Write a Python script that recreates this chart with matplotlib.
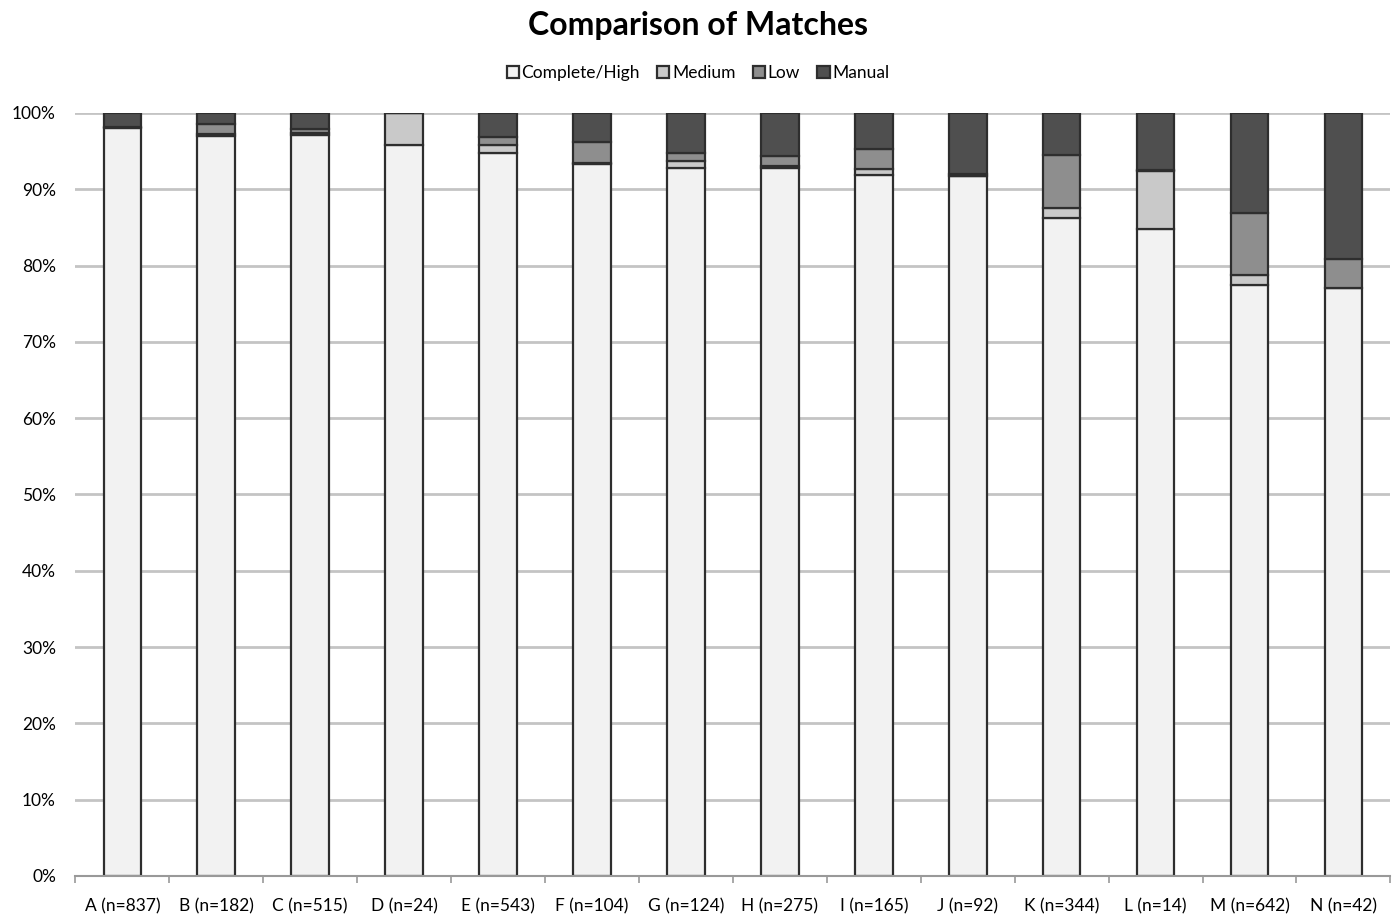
import numpy as np
import matplotlib.pyplot as plt
from matplotlib.ticker import PercentFormatter, FixedLocator

plt.rcParams['font.family'] = ['Lato', 'DejaVu Sans']

# Share of matches per source, in percent
sources = ["A (n=837)", "B (n=182)", "C (n=515)", "D (n=24)", "E (n=543)",
           "F (n=104)", "G (n=124)", "H (n=275)", "I (n=165)", "J (n=92)",
           "K (n=344)", "L (n=14)", "M (n=642)", "N (n=42)"]
complete_high = [98.0, 97.0, 97.1, 95.8, 94.8, 93.3, 92.8, 92.8, 91.9, 91.7, 86.2, 84.8, 77.4, 77.0]
medium = [0.1, 0.3, 0.3, 4.2, 1.0, 0.2, 0.9, 0.2, 0.7, 0.1, 1.4, 7.6, 1.4, 0.1]
low = [0.1, 1.2, 0.5, 0.0, 1.0, 2.7, 1.1, 1.4, 2.7, 0.2, 6.9, 0.1, 8.1, 3.8]
manual = [1.8, 1.5, 2.1, 0.0, 3.2, 3.8, 5.2, 5.6, 4.7, 8.0, 5.5, 7.5, 13.1, 19.1]

series = [
    ("Complete/High", complete_high, "#f2f2f2"),
    ("Medium", medium, "#c9c9c9"),
    ("Low", low, "#8e8e8e"),
    ("Manual", manual, "#4f4f4f"),
]

fig = plt.figure(figsize=(13.96, 9.16), dpi=100)
ax = fig.add_axes([0.054, 0.0437, 0.942, 0.833])

x = np.arange(len(sources))
bottom = np.zeros(len(sources))
for label, vals, color in series:
    vals = np.array(vals)
    ax.bar(x, vals, 0.4, bottom=bottom, color=color, edgecolor="#2e2e2e",
           linewidth=1.6, label=label, zorder=3)
    bottom += vals

ax.set_xlim(-0.5, len(sources) - 0.5)
ax.set_ylim(0, 100)
ax.set_yticks(np.arange(0, 101, 10))
ax.yaxis.set_major_formatter(PercentFormatter(decimals=0))
ax.set_xticks(x)
ax.set_xticklabels(sources, fontsize=12.5)
ax.xaxis.set_minor_locator(FixedLocator(np.arange(-0.5, len(sources), 1)))
ax.tick_params(axis="x", which="major", length=0, pad=16)
ax.tick_params(axis="x", which="minor", length=5, color="#999999", width=1.2)
ax.tick_params(axis="y", length=0, pad=14, labelsize=12.5)

ax.grid(True, axis="y", color="#c4c4c4", linewidth=2, zorder=0)
for side in ["left", "right", "top"]:
    ax.spines[side].set_visible(False)
ax.spines["bottom"].set_color("#999999")
ax.spines["bottom"].set_linewidth(1.5)
ax.spines["bottom"].set_zorder(4)

fig.suptitle("Comparison of Matches", fontsize=23, fontweight="bold", y=0.988)
fig.legend(loc="center", bbox_to_anchor=(0.5, 0.920), ncol=4, frameon=False,
           fontsize=12.5, handlelength=0.7, handleheight=0.7, handletextpad=0.15,
           columnspacing=1.0)

fig.savefig("out.png", dpi=100)
